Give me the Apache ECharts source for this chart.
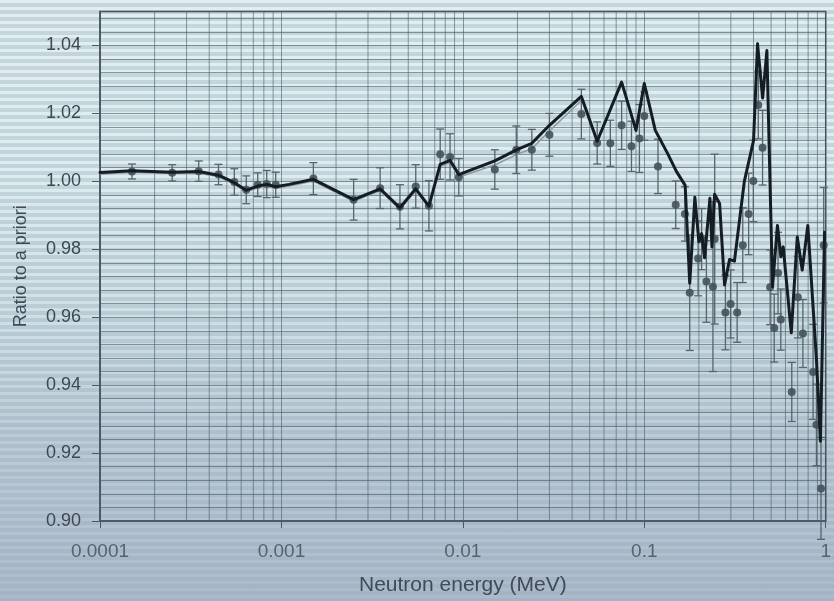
<!DOCTYPE html>
<html>
<head>
<meta charset="utf-8">
<script src="https://cdn.jsdelivr.net/npm/echarts@6/dist/echarts.min.js"></script>
<style>
  html, body { margin: 0; padding: 0; }
  body {
    position: relative;
    width: 834px; height: 601px; overflow: hidden;
    background: linear-gradient(to bottom, #d9e7eb 0%, #d4e4e9 28%, #c8d8df 50%, #b6c5d1 72%, #a7b5c8 100%);
  }
  #stripes {
    position: absolute; left: 0; top: 0; width: 834px; height: 601px;
    background: repeating-linear-gradient(to bottom,
      rgba(255,255,255,0.30) 0px, rgba(255,255,255,0.30) 3px,
      rgba(60,118,132,0.14) 3px, rgba(60,118,132,0.14) 7px);
    -webkit-mask-image: linear-gradient(to bottom, rgba(0,0,0,1) 0%, rgba(0,0,0,0.8) 45%, rgba(0,0,0,0.35) 80%, rgba(0,0,0,0.2) 100%);
    mask-image: linear-gradient(to bottom, rgba(0,0,0,1) 0%, rgba(0,0,0,0.8) 45%, rgba(0,0,0,0.35) 80%, rgba(0,0,0,0.2) 100%);
  }
  #chart { position: absolute; left: 0; top: 0; width: 834px; height: 601px; }
</style>
</head>
<body>
<div id="stripes"></div>
<div id="chart"></div>
<script>
// Evaluated ratio to the a priori cross section (thick curve)
const lineEnergy = [0.0001, 0.00015, 0.00025, 0.00035, 0.00045, 0.00055, 0.00064, 0.00074, 0.00083, 0.00093,
  0.0011, 0.0015, 0.0025, 0.0035, 0.0045, 0.0055, 0.0065, 0.0075, 0.0085, 0.0095,
  0.015, 0.02, 0.024, 0.03, 0.045, 0.055, 0.075, 0.09, 0.1, 0.115, 0.135, 0.15, 0.168,
  0.178, 0.19, 0.2, 0.207, 0.215, 0.23, 0.236, 0.244, 0.26, 0.277, 0.295, 0.314, 0.356, 0.40,
  0.421, 0.449, 0.474, 0.509, 0.542, 0.566, 0.583, 0.646, 0.697, 0.742, 0.797, 0.889, 0.935, 0.985];
const lineRatio = [1.0026, 1.0031, 1.0027, 1.0029, 1.0018, 0.9996, 0.9974, 0.9986, 0.9991, 0.9984,
  0.9991, 1.0006, 0.9946, 0.9978, 0.9922, 0.9978, 0.9927, 1.0050, 1.0062, 1.0020,
  1.0060, 1.0094, 1.0112, 1.0165, 1.0250, 1.0118, 1.0292, 1.0150, 1.0288, 1.0150, 1.0080, 1.0030, 0.9988,
  0.9700, 0.9953, 0.9822, 0.9846, 0.9775, 0.9950, 0.9807, 0.9962, 0.9935, 0.9695, 0.9770, 0.9765, 1.0000, 1.0120,
  1.0405, 1.0245, 1.0385, 0.9690, 0.9870, 0.9778, 0.9807, 0.9554, 0.9836, 0.9739, 0.9870, 0.9476, 0.9235, 0.9850];

// Thin grey companion curve at low energies
const priorEnergy = [0.0001, 0.00015, 0.00025, 0.00035, 0.00045, 0.00055, 0.00064, 0.00074, 0.00083, 0.00093,
  0.0011, 0.0015, 0.0025, 0.0035, 0.0045, 0.0055, 0.0065, 0.0075, 0.0085, 0.0095,
  0.015, 0.02, 0.024, 0.03, 0.045];
const priorRatio = [1.0021, 1.0027, 1.0023, 1.0024, 1.0014, 0.9991, 0.9969, 0.9981, 0.9986, 0.9979,
  0.9986, 1.0001, 0.9941, 0.9973, 0.9917, 0.9973, 0.9922, 1.0044, 1.0056, 1.0013,
  1.0048, 1.0080, 1.0096, 1.0148, 1.0238];

// Measured points with one-sigma uncertainties
const pointEnergy = [0.00015, 0.00025, 0.00035, 0.00045, 0.00055, 0.00064, 0.00074, 0.00083, 0.00093,
  0.0015, 0.0025, 0.0035, 0.0045, 0.0055, 0.0065, 0.0075, 0.0085, 0.0095,
  0.015, 0.0197, 0.024, 0.03, 0.045, 0.055, 0.065, 0.075, 0.085, 0.094, 0.1, 0.119,
  0.149, 0.1675, 0.178, 0.198, 0.207, 0.22, 0.239, 0.2444, 0.28, 0.299, 0.325, 0.349, 0.376, 0.399,
  0.4248, 0.4487, 0.494, 0.52, 0.546, 0.5655, 0.65, 0.702, 0.7486, 0.852, 0.889, 0.942, 0.975];
const pointRatio = [1.0029, 1.0025, 1.0030, 1.0020, 0.9998, 0.9975, 0.9990, 0.9992, 0.9990,
  1.0008, 0.9946, 0.9980, 0.9925, 0.9985, 0.9928, 1.0080, 1.0072, 1.0012,
  1.0035, 1.0093, 1.0093, 1.0137, 1.0198, 1.0113, 1.0112, 1.0165, 1.0103, 1.0126, 1.0192, 1.0044,
  0.9931, 0.9904, 0.9672, 0.9773, 0.9830, 0.9705, 0.9690, 0.9830, 0.9614, 0.9639, 0.9614, 0.9812, 0.9904, 1.0001,
  1.0225, 1.0099, 0.9688, 0.9568, 0.9730, 0.9593, 0.9380, 0.9659, 0.9552, 0.9439, 0.9283, 0.9096, 0.9812];
const pointError = [0.0022, 0.0024, 0.0030, 0.0030, 0.0039, 0.0041, 0.0035, 0.0040, 0.0037,
  0.0047, 0.0060, 0.0060, 0.0065, 0.0064, 0.0074, 0.0074, 0.0068, 0.0055,
  0.0058, 0.0070, 0.0060, 0.0063, 0.0073, 0.0062, 0.0068, 0.0071, 0.0074, 0.0100, 0.0071, 0.0080,
  0.0070, 0.0080, 0.0170, 0.0110, 0.0090, 0.0120, 0.0250, 0.0250, 0.0110, 0.0100, 0.0088, 0.0110, 0.0120, 0.0120,
  0.0100, 0.0110, 0.0110, 0.0100, 0.0120, 0.0090, 0.0087, 0.0120, 0.0100, 0.0140, 0.0120, 0.0150, 0.0170];

const xMin = 0.0001, xMax = 1;
const yMin = 0.90, yMax = 1.05;

const pair = (xs, ys) => xs.map((x, i) => [x, ys[i]]);

// log-decade minor grid positions (2..9 within each decade)
const minorGrid = [];
for (let p = -4; p < 0; p++) {
  for (let k = 2; k <= 9; k++) minorGrid.push([+(k * Math.pow(10, p)).toPrecision(3)]);
}

const font = 'Liberation Sans, Arial, sans-serif';
const axisColor = '#4a5963';
const gridColor = 'rgba(70,92,104,0.6)';
const chart = echarts.init(document.getElementById('chart'), null, { renderer: 'canvas' });

chart.setOption({
  backgroundColor: 'transparent',
  animation: false,
  grid: {
    left: 100, right: 2, top: 11.5, bottom: 78,
    show: true, borderColor: '#3e4d57', borderWidth: 1.5, backgroundColor: 'transparent'
  },
  xAxis: {
    type: 'log', logBase: 10, min: xMin, max: xMax,
    name: 'Neutron energy (MeV)', nameLocation: 'middle', nameGap: 54,
    nameTextStyle: { fontFamily: font, fontSize: 21, color: '#3f4b56' },
    axisLine: { show: true, lineStyle: { color: axisColor, width: 1.5 } },
    axisTick: { show: true, length: 7, lineStyle: { color: axisColor } },
    axisLabel: {
      fontFamily: font, fontSize: 19, color: '#56626c', margin: 21,
      formatter: v => String(+(+v).toPrecision(1))
    },
    splitLine: { show: true, lineStyle: { color: gridColor, width: 1 } }
  },
  yAxis: [
    {
      type: 'value', min: yMin, max: yMax, interval: 0.02,
      name: 'Ratio to a priori', nameLocation: 'middle', nameGap: 70,
      nameTextStyle: { fontFamily: font, fontSize: 18, color: '#3f4b56' },
      axisLine: { show: true, lineStyle: { color: axisColor, width: 1.5 } },
      axisTick: { show: true, length: 8, lineStyle: { color: axisColor } },
      axisLabel: {
        fontFamily: font, fontSize: 18, color: '#3c4852', margin: 19,
        showMaxLabel: false,
        formatter: v => v.toFixed(2)
      },
      splitLine: { show: false }
    },
    {
      type: 'value', min: yMin, max: yMax, interval: 0.004,
      position: 'left',
      axisLine: { show: false }, axisTick: { show: false }, axisLabel: { show: false },
      splitLine: { show: true, lineStyle: { color: gridColor, width: 1 } }
    }
  ],
  series: [
    {
      // minor vertical grid of the log axis
      type: 'custom', silent: true, z: 1,
      data: minorGrid,
      renderItem: (params, api) => {
        const a = api.coord([api.value(0), yMin]);
        const b = api.coord([api.value(0), yMax]);
        return {
          type: 'line',
          shape: { x1: a[0], y1: a[1], x2: b[0], y2: b[1] },
          style: { stroke: gridColor, lineWidth: 1 }
        };
      }
    },
    {
      type: 'line', data: pair(priorEnergy, priorRatio), showSymbol: false, silent: true,
      lineStyle: { color: '#8d999f', width: 1.5 }, z: 3
    },
    {
      type: 'custom', silent: true, z: 4,
      data: pointEnergy.map((e, i) => [e, pointRatio[i], pointError[i]]),
      renderItem: (params, api) => {
        const x = api.value(0), v = api.value(1), err = api.value(2);
        const top = api.coord([x, v + err]);
        const bot = api.coord([x, v - err]);
        const w = 4;
        const style = { stroke: '#56646c', lineWidth: 1.3 };
        return {
          type: 'group',
          children: [
            { type: 'line', shape: { x1: top[0], y1: top[1], x2: bot[0], y2: bot[1] }, style },
            { type: 'line', shape: { x1: top[0] - w, y1: top[1], x2: top[0] + w, y2: top[1] }, style },
            { type: 'line', shape: { x1: bot[0] - w, y1: bot[1], x2: bot[0] + w, y2: bot[1] }, style }
          ]
        };
      }
    },
    {
      type: 'scatter', data: pair(pointEnergy, pointRatio), symbol: 'circle', symbolSize: 8,
      itemStyle: { color: '#45525a', opacity: 0.9 }, silent: true, z: 5
    },
    {
      type: 'line', data: pair(lineEnergy, lineRatio), showSymbol: false, silent: true,
      lineStyle: { color: '#141d24', width: 3, join: 'round', cap: 'round' }, z: 6
    }
  ]
});
</script>
</body>
</html>
